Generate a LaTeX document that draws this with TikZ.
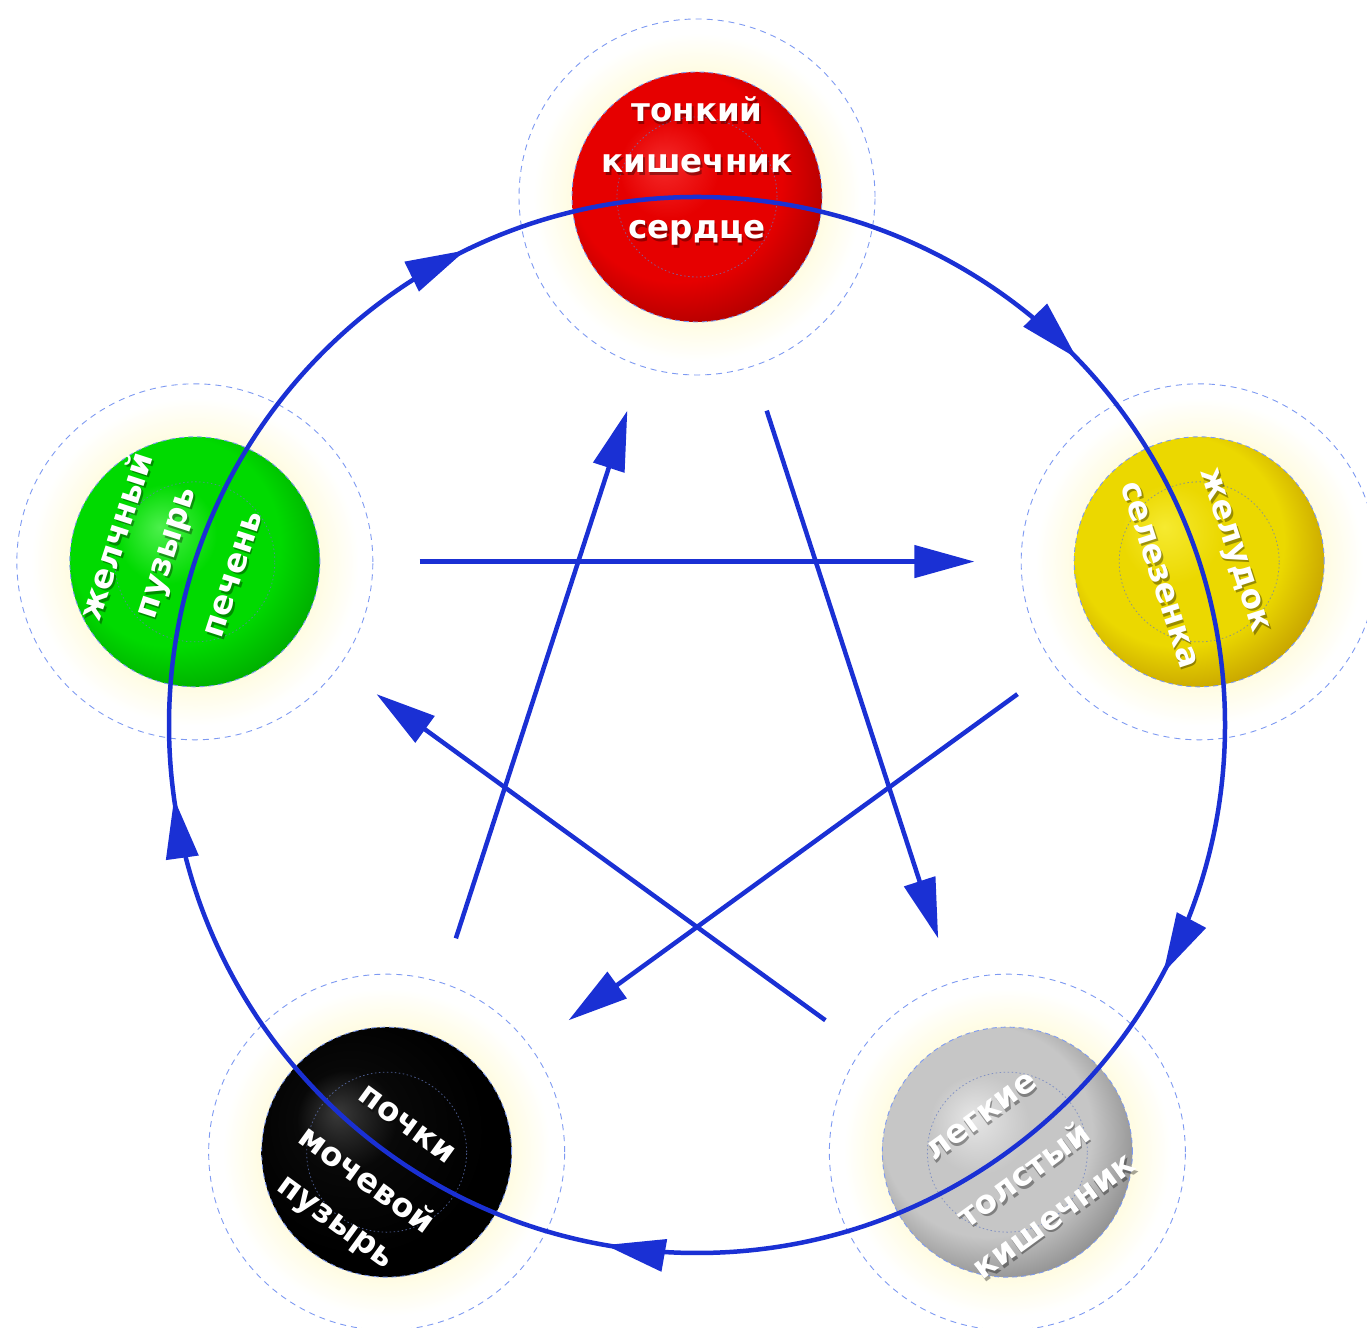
\documentclass[tikz,border=0pt]{standalone}
\usepackage{fontspec}
\setmainfont{DejaVu Sans}
\usetikzlibrary{arrows.meta,decorations.markings}

\definecolor{cblue}{HTML}{1A30D4}
\definecolor{dashc}{HTML}{7E9AF2}
\definecolor{glowc}{HTML}{FFFCE2}
\definecolor{redL}{HTML}{F42A2A}\definecolor{redB}{HTML}{E60000}\definecolor{redD}{HTML}{9C0000}
\definecolor{yelL}{HTML}{F6EA30}\definecolor{yelB}{HTML}{EBD800}\definecolor{yelD}{HTML}{B88E00}
\definecolor{gryL}{HTML}{E6E6E6}\definecolor{gryB}{HTML}{C6C6C6}\definecolor{gryD}{HTML}{7A7A7A}
\definecolor{blkL}{HTML}{3A3A3A}\definecolor{blkB}{HTML}{080808}\definecolor{blkD}{HTML}{000000}
\definecolor{grnL}{HTML}{4CF04C}\definecolor{grnB}{HTML}{00DA00}\definecolor{grnD}{HTML}{009A00}

\pgfdeclareradialshading{redball}{\pgfpoint{-7bp}{7bp}}{color(0bp)=(redL); color(10bp)=(redB); color(21bp)=(redB); color(33bp)=(redD); color(50bp)=(redD)}
\pgfdeclareradialshading{yelball}{\pgfpoint{-7bp}{7bp}}{color(0bp)=(yelL); color(10bp)=(yelB); color(21bp)=(yelB); color(33bp)=(yelD); color(50bp)=(yelD)}
\pgfdeclareradialshading{gryball}{\pgfpoint{-7bp}{7bp}}{color(0bp)=(gryL); color(10bp)=(gryB); color(21bp)=(gryB); color(33bp)=(gryD); color(50bp)=(gryD)}
\pgfdeclareradialshading{blkball}{\pgfpoint{-10bp}{8bp}}{color(0bp)=(blkL); color(10bp)=(blkB); color(25bp)=(blkD); color(50bp)=(blkD)}
\pgfdeclareradialshading{grnball}{\pgfpoint{-7bp}{7bp}}{color(0bp)=(grnL); color(10bp)=(grnB); color(21bp)=(grnB); color(33bp)=(grnD); color(50bp)=(grnD)}
\pgfdeclareradialshading{glowshade}{\pgfpoint{0bp}{0bp}}{color(0bp)=(glowc); color(17.5bp)=(glowc); color(23bp)=(white); color(50bp)=(white)}

\newcommand\organtxt[6]{% #1 name, #2 ball, #3 angle, #4 distance, #5 rotation, #6 text
  \path ([shift={(#3:#4)}]#2) coordinate (#1c);
  \node[lblsh, rotate=#5] (#1s) at ([shift={(1.5,-2.5)}]#1c) {#6};
  \node[lbl, rotate=#5] (#1) at (#1c) {#6};}

\begin{document}
\begin{tikzpicture}[x=1pt,y=1pt,
  halo/.style={circle, minimum size=356pt, inner sep=0pt, shading=glowshade,
    draw=dashc, line width=0.9pt, dash pattern=on 6pt off 5pt},
  orb/.style={circle, minimum size=250pt, inner sep=0pt,
    draw=dashc, line width=0.9pt, dash pattern=on 5pt off 4pt},
  core/.style={circle, minimum size=160pt, inner sep=0pt,
    draw=dashc!80!black, opacity=0.7, line width=0.8pt, dash pattern=on 1.5pt off 2.5pt},
  lbl/.style={text=white, font=\bfseries\fontsize{32.5}{51}\selectfont, align=center, inner sep=0pt},
  lblsh/.style={lbl, text=black, text opacity=0.35},
  cyc/.style={draw=cblue, line width=4.5pt},
  starrow/.style={draw=cblue, line width=4.5pt, -{Triangle[length=60pt,width=32pt]}}
]
\useasboundingbox (0,0) rectangle (1367,1327);
\clip (0,0) rectangle (1367,1327);

\coordinate (O) at (697,602);

% halos
\node[halo] (hR) at ([shift={(90:528)}]O) {};
\node[halo] (hY) at ([shift={(18:528)}]O) {};
\node[halo] (hK) at ([shift={(-54:528)}]O) {};
\node[halo] (hB) at ([shift={(-126:528)}]O) {};
\node[halo] (hG) at ([shift={(162:528)}]O) {};

% balls
\node[orb, shading=redball] (R) at (hR) {};
\node[orb, shading=yelball] (Y) at (hY) {};
\node[orb, shading=gryball] (K) at (hK) {};
\node[orb, shading=blkball] (B) at (hB) {};
\node[orb, shading=grnball] (G) at (hG) {};

\node[core] (cR) at (R) {};
\node[core] (cY) at (Y) {};
\node[core] (cK) at (K) {};
\node[core] (cB) at (B) {};
\node[core] (cG) at (G) {};

% generating cycle (clockwise)
\draw[cyc, postaction={decorate}, decoration={markings,
    mark=at position 0.1278 with {\arrow{Triangle[length=60pt,width=32pt]}},
    mark=at position 0.3278 with {\arrow{Triangle[length=60pt,width=32pt]}},
    mark=at position 0.5278 with {\arrow{Triangle[length=60pt,width=32pt]}},
    mark=at position 0.7278 with {\arrow{Triangle[length=60pt,width=32pt]}},
    mark=at position 0.9278 with {\arrow{Triangle[length=60pt,width=32pt]}}}]
  (R.center) arc[start angle=90, end angle=-270, radius=528];

% controlling star
\coordinate (sG) at ([shift={(149.5:322)}]O);
\coordinate (eY) at ([shift={(30.5:322)}]O);
\coordinate (sR) at ([shift={(77.5:322)}]O);
\coordinate (eK) at ([shift={(-41.5:322)}]O);
\coordinate (sY) at ([shift={(5.5:322)}]O);
\coordinate (eB) at ([shift={(-113.5:322)}]O);
\coordinate (sK) at ([shift={(-66.5:322)}]O);
\coordinate (eG) at ([shift={(174.5:322)}]O);
\coordinate (sB) at ([shift={(-138.5:322)}]O);
\coordinate (eR) at ([shift={(102.5:322)}]O);

\draw[starrow] (sG) -- (eY);
\draw[starrow] (sR) -- (eK);
\draw[starrow] (sY) -- (eB);
\draw[starrow] (sK) -- (eG);
\draw[starrow] (sB) -- (eR);

% labels
\organtxt{tR1}{R}{90}{62}{0}{тонкий\\кишечник}
\organtxt{tR2}{R}{270}{36}{0}{сердце}
\organtxt{tY1}{Y}{18}{35}{-72}{желудок}
\organtxt{tY2}{Y}{198}{42}{-72}{селезенка}
\organtxt{tK1}{K}{126}{44}{36}{легкие}
\organtxt{tK2}{K}{-54}{52}{36}{толстый\\кишечник}
\organtxt{tB1}{B}{54}{34}{-36}{почки}
\organtxt{tB2}{B}{-126}{61}{-36}{мочевой\\пузырь}
\organtxt{tG1}{G}{162}{55}{72}{желчный\\пузырь}
\organtxt{tG2}{G}{-18}{41}{72}{печень}
\end{tikzpicture}
\end{document}
